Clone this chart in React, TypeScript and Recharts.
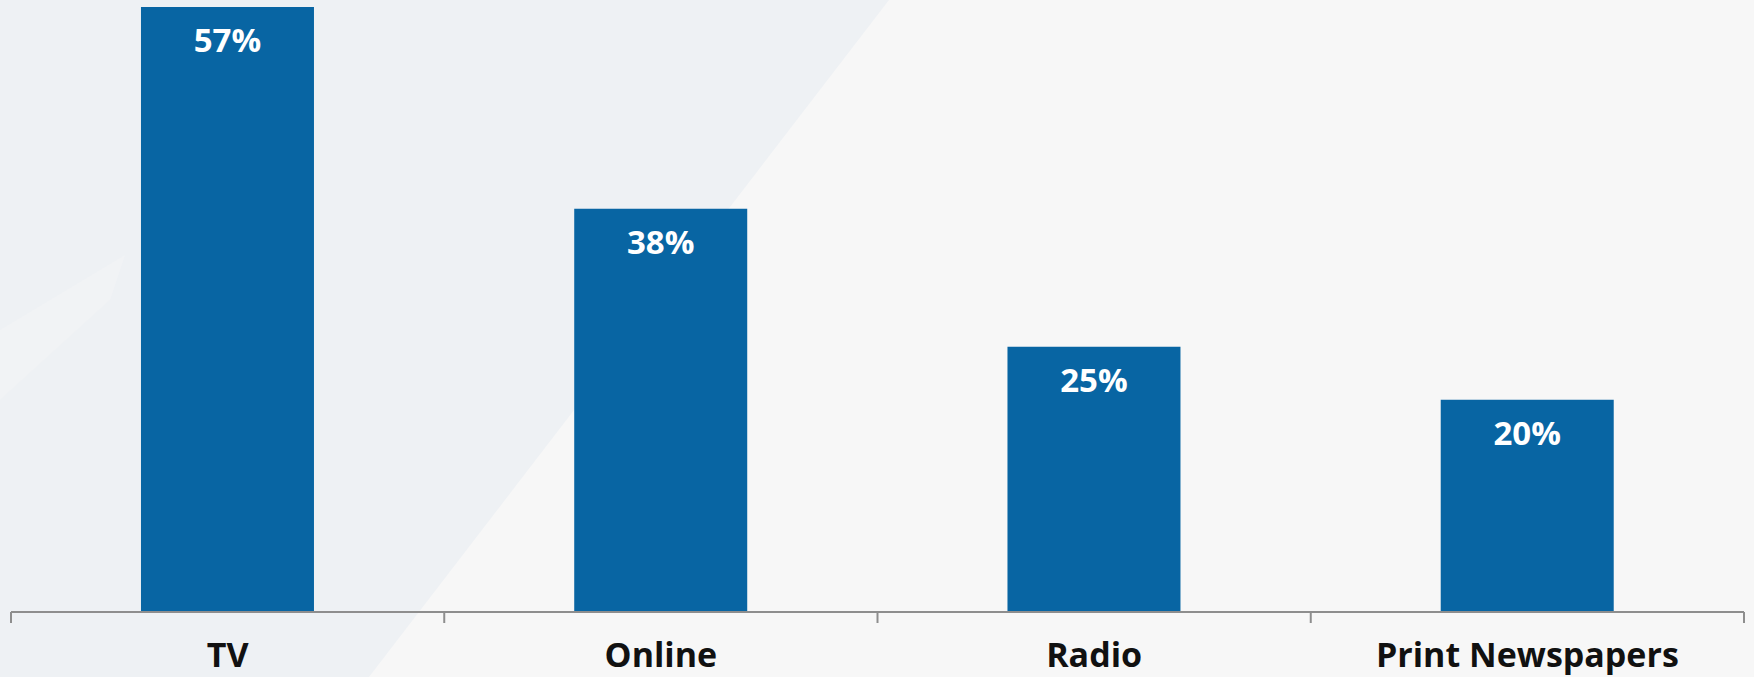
import React from "react";
import { BarChart, Bar, XAxis, YAxis, LabelList } from "recharts";

const categories = ["TV", "Online", "Radio", "Print Newspapers"];
const shares = [57, 38, 25, 20];
const edgeTicks = [0, 1, 2, 3, 4];

// pos = slot centre on a 0..4 number line, used only by the edge-tick axis
const data = categories.map((name, i) => ({ name, share: shares[i], pos: i + 0.5 }));

const FONT = "'Open Sans', 'DejaVu Sans', sans-serif";

function CategoryTick(props: any) {
  const { x, y, payload } = props;
  return (
    <text
      x={x}
      y={y}
      dy={54}
      textAnchor="middle"
      fontFamily={FONT}
      fontWeight={700}
      fontSize={34}
      fill="#111"
    >
      {payload.value}
    </text>
  );
}

function ValueLabel(props: any) {
  const { x, y, width, value } = props;
  return (
    <text
      x={x + width / 2}
      y={y + 45}
      textAnchor="middle"
      fontFamily={FONT}
      fontWeight={700}
      fontSize={33}
      fill="#fff"
    >
      {value}%
    </text>
  );
}

export default function App() {
  return (
    <div
      style={{
        position: "absolute",
        left: 0,
        top: 0,
        width: 1754,
        height: 677,
        background: "#f7f7f7",
        overflow: "hidden",
      }}
    >
      {/* decorative backdrop */}
      <svg
        width={1754}
        height={677}
        style={{ position: "absolute", left: 0, top: 0 }}
      >
        <polygon points="0,0 889,0 369,677 0,677" fill="#eef1f4" />
        <polygon points="0,400 0,330 125,255 110,300" fill="#f1f3f5" />
      </svg>
      <div style={{ position: "absolute", left: 0, top: 0 }}>
        <BarChart
          width={1754}
          height={677}
          data={data}
          margin={{ top: 7, right: 10, left: 11, bottom: 0 }}
          barCategoryGap="30%"
        >
          <XAxis
            xAxisId={0}
            dataKey="pos"
            type="number"
            domain={[0, 4]}
            ticks={edgeTicks}
            allowDataOverflow
            height={1}
            tickFormatter={() => ""}
            tickSize={11}
            axisLine={{ stroke: "#8e8e8e", strokeWidth: 2 }}
            tickLine={{ stroke: "#8e8e8e", strokeWidth: 2 }}
          />
          <XAxis
            xAxisId="labels"
            dataKey="name"
            height={64}
            axisLine={false}
            tickLine={false}
            tickSize={0}
            tickMargin={0}
            interval={0}
            tick={<CategoryTick />}
          />
          <YAxis hide domain={[0, 57]} />
          <Bar
            xAxisId="labels"
            dataKey="share"
            fill="#0865a3"
            isAnimationActive={false}
          >
            <LabelList dataKey="share" content={<ValueLabel />} />
          </Bar>
        </BarChart>
      </div>
    </div>
  );
}
